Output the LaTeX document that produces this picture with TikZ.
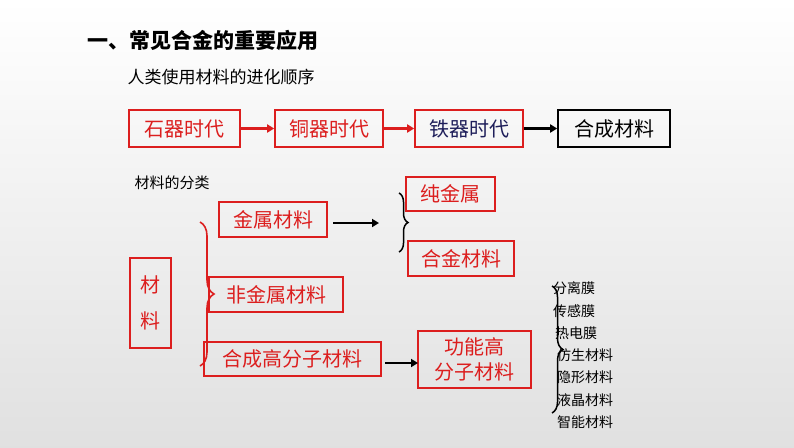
\documentclass[tikz,border=0pt]{standalone}
\usepackage{fontspec}
\setmainfont{Noto Sans CJK SC}
\usetikzlibrary{decorations.pathreplacing,arrows.meta}
\definecolor{rd}{RGB}{220,30,30}
\definecolor{bl}{RGB}{30,30,90}
\tikzset{
 rbox/.style={draw=rd,line width=1.6pt,text=rd,inner sep=0pt,font=\fontsize{20}{22}\selectfont},
 kbox/.style={draw=black,line width=1.6pt,text=black,inner sep=0pt,font=\fontsize{20}{22}\selectfont},
 arr/.style={line width=2.2pt,-{Triangle[length=7pt,width=8pt]}},
 lst/.style={font=\fontsize{14}{15}\selectfont,anchor=west,inner sep=0pt}
}
\begin{document}
\begin{tikzpicture}[x=1pt,y=-1pt]
\shade[top color=white,bottom color=black!12] (0,0) rectangle (794,447);
\useasboundingbox (0,0) rectangle (794,447);
\node[anchor=west,font=\fontsize{21}{24}\selectfont\bfseries] (t) at (84,40) {一、常见合金的重要应用};
\node[anchor=west,font=\fontsize{17}{19}\selectfont] (s) at (124,77) {人类使用材料的进化顺序};
\node[rbox,minimum width=111,minimum height=37] (a1) at (184.5,128.5) {石器时代};
\node[rbox,minimum width=108,minimum height=37] (a2) at (329,128.5) {铜器时代};
\node[rbox,text=bl,minimum width=108,minimum height=37] (a3) at (469,128.5) {铁器时代};
\node[kbox,minimum width=112,minimum height=37] (a4) at (614,128.5) {合成材料};
\draw[arr,rd] (a1) -- (a2);
\draw[arr,rd] (a2) -- (a3);
\draw[arr,black] (a3) -- (a4);
\node[anchor=west,font=\fontsize{15}{17}\selectfont] (c) at (131,183) {材料的分类};
\node[rbox,minimum width=41,minimum height=90,align=center,font=\fontsize{20}{36}\selectfont] (m) at (150.5,303) {材\\料};
\node[rbox,minimum width=108,minimum height=35] (b1) at (273,219.5) {金属材料};
\node[rbox,minimum width=134,minimum height=35] (b2) at (276,294.5) {非金属材料};
\node[rbox,minimum width=177,minimum height=34] (b3) at (292.5,359) {合成高分子材料};
\node[rbox,minimum width=89,minimum height=34] (d1) at (450.5,194) {纯金属};
\node[rbox,minimum width=106,minimum height=35] (d2) at (461,258.5) {合金材料};
\node[rbox,minimum width=113,minimum height=57,align=center,font=\fontsize{20}{25}\selectfont] (f) at (474.5,359.5) {功能高\\分子材料};
\draw[rd,line width=1.6pt,decorate,decoration={brace,mirror,amplitude=14pt}] (200,366) -- (200,222);
\coordinate (e1) at (379,223);
\coordinate (s1) at (333,223);
\draw[arr] (s1) -- (e1);
\draw[black,line width=1.5pt,decorate,decoration={brace,mirror,amplitude=9pt}] (399,252) -- (399,193);
\coordinate (s2) at (385,363);
\coordinate (e2) at (418,363);
\draw[arr] (s2) -- (e2);
\draw[black,line width=1.5pt,decorate,decoration={brace,mirror,amplitude=11pt}] (552,413) -- (552,286);
\node[lst] (l1) at (553,288) {分离膜};
\node[lst] (l2) at (553,311) {传感膜};
\node[lst] (l3) at (555,333) {热电膜};
\node[lst] (l4) at (557,355) {仿生材料};
\node[lst] (l5) at (557,377) {隐形材料};
\node[lst] (l6) at (557,400) {液晶材料};
\node[lst] (l7) at (557,422) {智能材料};
\end{tikzpicture}
\end{document}
